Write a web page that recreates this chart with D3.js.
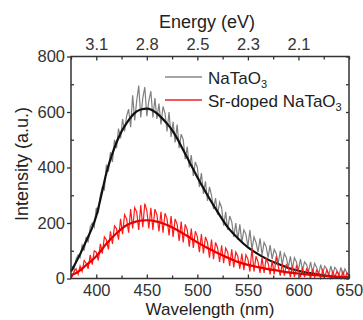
<!DOCTYPE html>
<html><head><meta charset="utf-8">
<script src="https://cdn.jsdelivr.net/npm/d3@7"></script>
<style>body{margin:0;background:#fff}svg{display:block}text{font-family:Arial,"Liberation Sans",sans-serif}</style>
</head><body><div id="chart"></div>
<script>
const wlTicks = [400, 450, 500, 550, 600, 650];
const wlMinor = [375, 425, 475, 525, 575, 625];
const energyTickPos = [400, 450, 500, 550, 600];
const energyTickLabels = ["3.1", "2.8", "2.5", "2.3", "2.1"];
const yTicks = [0, 200, 400, 600, 800];
const yMinor = [100, 300, 500, 700];
const seriesNames = ["NaTaO\u2083", "Sr-doped NaTaO\u2083"];

// smooth fits (wavelength nm, intensity)
const fitWl = [375,385,390,395,400,405,410,415,420,425,430,435,440,445,450,455,460,465,470,475,480,485,490,495,500,510,520,530,540,550,560,570,580,590,600,610,620,630,640,650];
const fitNa = [25,95,135,175,225,300,380,440,490,530,560,585,602,610,612,607,595,578,558,535,505,470,435,400,365,300,240,185,145,112,88,68,52,38,28,20,14,9,5,3];
const fitSrWl = [375,380,390,400,410,420,430,440,450,460,470,480,490,500,510,520,530,540,550,560,570,580,590,600,610,620,630,640,650];
const fitSr = [12,20,48,80,125,163,192,206,210,205,193,175,153,130,110,92,75,60,49,41,34,28,22,18,14,11,8,6,4];

// raw (noisy) spectra sampled every 2 nm from 376 to 650
const rawStart = 376, rawStep = 2;
const rawNa = [45,30,70,85,75,120,100,150,130,185,200,185,255,235,300,330,320,410,385,455,420,500,470,540,505,575,530,585,610,545,660,570,640,695,580,650,690,585,640,675,580,650,575,630,555,620,595,530,600,510,565,490,555,470,520,500,430,475,400,445,370,420,400,330,380,305,350,280,330,300,250,290,230,275,255,190,240,175,225,205,150,200,140,195,130,175,160,115,175,105,150,130,95,145,85,130,115,75,120,70,105,90,55,100,50,90,75,40,80,35,75,60,30,70,30,60,50,25,60,20,55,40,15,50,20,45,35,10,45,15,40,30,10,40,10,35,20,5];
const rawSr = [5,25,35,15,45,25,65,55,35,85,50,100,95,65,125,90,150,140,105,170,125,190,180,140,215,160,230,215,165,250,180,255,240,175,265,185,270,245,180,255,175,250,230,170,240,165,235,215,155,225,150,215,195,135,205,130,195,175,115,180,110,170,150,95,160,90,150,130,75,140,70,130,110,60,120,55,110,95,45,105,40,95,80,35,90,30,85,70,25,110,25,80,60,20,75,20,70,55,15,65,15,80,45,10,55,10,50,40,5,45,5,45,30,5,40,5,35,25,0,35,5,30,20,0,30,5,30,15,0,25,5,25,15,0,25,0,20,10];

const W = 363, H = 320;
const svg = d3.select("#chart").append("svg").attr("width", W).attr("height", H);
const x = d3.scaleLinear().domain([375, 650]).range([71, 349]);
const y = d3.scaleLinear().domain([0, 800]).range([278.5, 56.5]);

const raw = arr => arr.map((v, i) => [rawStart + i * rawStep, v]).filter(d => d[0] <= 650);
const line = d3.line().x(d => x(d[0])).y(d => y(d[1]));
const smooth = d3.line().x(d => x(d[0])).y(d => y(d[1])).curve(d3.curveMonotoneX);

const plot = svg.append("g");
plot.append("path").datum(raw(rawNa)).attr("d", line).attr("fill", "none").attr("stroke", "#808080").attr("stroke-width", 1.2);
plot.append("path").datum(fitWl.map((w, i) => [w, fitNa[i]])).attr("d", smooth).attr("fill", "none").attr("stroke", "#111").attr("stroke-width", 2.2);
plot.append("path").datum(raw(rawSr)).attr("d", line).attr("fill", "none").attr("stroke", "#ff1a1a").attr("stroke-width", 1.2);
plot.append("path").datum(fitSrWl.map((w, i) => [w, fitSr[i]])).attr("d", smooth).attr("fill", "none").attr("stroke", "#e60000").attr("stroke-width", 2.2);

// axes
const axCol = "#333";
const fs = "16.5px";
const gBottom = svg.append("g").attr("transform", `translate(0,${y(0)})`)
  .call(d3.axisBottom(x).tickValues(wlTicks).tickSizeInner(-4).tickSizeOuter(0).tickPadding(6));
const gBottomMinor = svg.append("g").attr("transform", `translate(0,${y(0)})`)
  .call(d3.axisBottom(x).tickValues(wlMinor).tickSize(-3).tickFormat(""));
const gTop = svg.append("g").attr("transform", `translate(0,${y(800)})`)
  .call(d3.axisTop(x).tickValues(energyTickPos).tickSizeInner(-4).tickSizeOuter(0).tickPadding(7)
    .tickFormat((d, i) => energyTickLabels[i]));
const gTopMinor = svg.append("g").attr("transform", `translate(0,${y(800)})`)
  .call(d3.axisTop(x).tickValues(wlMinor.concat([650])).tickSize(-3).tickFormat(""));
const gLeft = svg.append("g").attr("transform", `translate(${x(375)},0)`)
  .call(d3.axisLeft(y).tickValues(yTicks).tickSizeInner(4).tickSizeOuter(0).tickPadding(2));
const gLeftMinor = svg.append("g").attr("transform", `translate(${x(375)},0)`)
  .call(d3.axisLeft(y).tickValues(yMinor).tickSize(-3).tickFormat(""));
const gRight = svg.append("g").attr("transform", `translate(${x(650)},0)`)
  .call(d3.axisRight(y).tickValues(yTicks.concat(yMinor)).tickSize(-3).tickFormat(""));
[gBottom, gBottomMinor, gTop, gTopMinor, gLeft, gLeftMinor, gRight].forEach(g => {
  g.select(".domain").remove();
  g.selectAll("line").attr("stroke", axCol).attr("stroke-width", 1.3);
  g.selectAll("text").attr("fill", "#333").style("font-size", fs).attr("font-family", "Arial, 'Liberation Sans', sans-serif");
});
svg.append("rect").attr("x", x(375)).attr("y", y(800)).attr("width", x(650) - x(375)).attr("height", y(0) - y(800))
  .attr("fill", "none").attr("stroke", axCol).attr("stroke-width", 1.5);

// titles
svg.append("text").attr("x", 207).attr("y", 28).attr("text-anchor", "middle").style("font-size", "18px").attr("fill", "#222").text("Energy (eV)");
svg.append("text").attr("x", 210).attr("y", 315).attr("text-anchor", "middle").style("font-size", "17px").attr("fill", "#222").text("Wavelength (nm)");
svg.append("text").attr("transform", "translate(28,164) rotate(-90)").attr("text-anchor", "middle").style("font-size", "18px").attr("fill", "#222").text("Intensity (a.u.)");

// legend
const legCols = ["#888", "#ee2222"];
const leg = svg.append("g");
seriesNames.forEach((n, i) => {
  const yy = 77 + i * 23;
  leg.append("line").attr("x1", 165).attr("x2", 202).attr("y1", yy).attr("y2", yy).attr("stroke", legCols[i]).attr("stroke-width", 1.6);
  const t = leg.append("text").attr("x", 208).attr("y", yy + 7).style("font-size", "17px").attr("fill", "#222");
  t.append("tspan").text(n.slice(0, -1));
  t.append("tspan").attr("dy", 4).style("font-size", "11px").text("3");
});
</script></body></html>
